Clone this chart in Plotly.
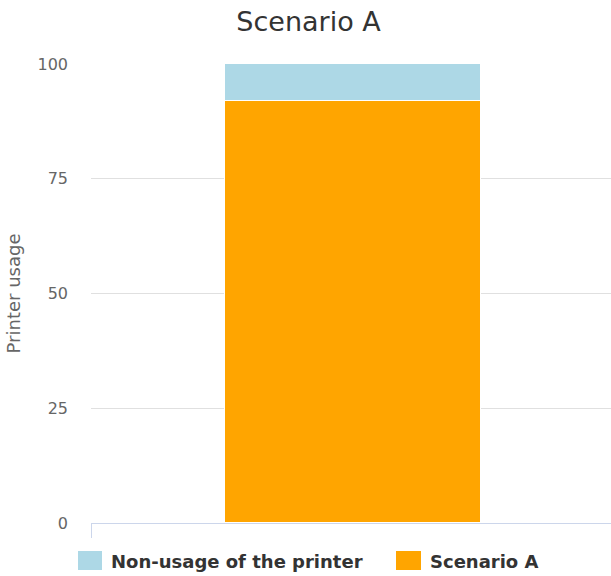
import plotly.graph_objects as go

categories = ["Scenario A"]
series_names = ["Scenario A", "Non-usage of the printer"]
scenario_a = [92]
non_usage = [8]
y_ticks = [0, 25, 50, 75, 100]
colors = {"Scenario A": "#FFA500", "Non-usage of the printer": "#ADD8E6"}

FONT = "DejaVu Sans"
W, H = 611, 576
ML, MR, MT, MB = 91, 0, 64, 53
PW, PH = W - ML - MR, H - MT - MB


def px_x(px):
    return (px - ML) / PW


def px_y(py):
    return (H - MB - py) / PH


fig = go.Figure()
for name, vals in zip(series_names, [scenario_a, non_usage]):
    fig.add_trace(go.Bar(
        x=categories, y=vals, name=name,
        marker=dict(color=colors[name], line=dict(color="#ffffff", width=1)),
        width=0.492, offset=-0.242, showlegend=False,
    ))

# custom legend (Highcharts-like large square symbols)
legend_items = [
    ("Non-usage of the printer", 78, 102, 109),
    ("Scenario A", 396, 421, 428),
]
for name, sx0, sx1, tx in legend_items:
    fig.add_shape(type="rect", xref="paper", yref="paper",
                  x0=px_x(sx0), x1=px_x(sx1), y0=px_y(570), y1=px_y(551),
                  fillcolor=colors[name], line=dict(width=0))
    fig.add_annotation(xref="paper", yref="paper", x=px_x(tx), y=px_y(561),
                       xanchor="left", yanchor="middle", showarrow=False,
                       text="<b>%s</b>" % name,
                       font=dict(family=FONT, size=18, color="#333333"))

fig.update_layout(
    barmode="stack",
    width=W, height=H,
    margin=dict(l=ML, r=MR, t=MT, b=MB),
    paper_bgcolor="white", plot_bgcolor="white",
    font=dict(family=FONT, color="#666666", size=16),
    title=dict(text="Scenario A", x=0.5 + 3 / W, xref="container", xanchor="center",
               y=1 - 22 / H, yref="container", yanchor="middle",
               font=dict(family=FONT, size=27, color="#333333")),
    showlegend=False,
    bargap=0,
)
fig.update_xaxes(
    type="category", range=[-0.5, 0.5],
    showgrid=False, showline=True, linecolor="#ccd6eb", linewidth=1,
    tickmode="array", tickvals=[-0.5], ticktext=[""],
    ticks="outside", ticklen=14, tickcolor="#ccd6eb", tickwidth=1,
    showticklabels=False, zeroline=False,
)
fig.update_yaxes(
    range=[0, 100], tickmode="array", tickvals=y_ticks,
    showgrid=True, gridcolor="#e0e0e0", gridwidth=1, zeroline=False,
    ticks="", ticklabelstandoff=22,
    tickfont=dict(family=FONT, size=16, color="#666666"),
    title=dict(text="Printer usage", standoff=12,
               font=dict(family=FONT, size=18, color="#666666")),
)

fig.write_html("out.html")
